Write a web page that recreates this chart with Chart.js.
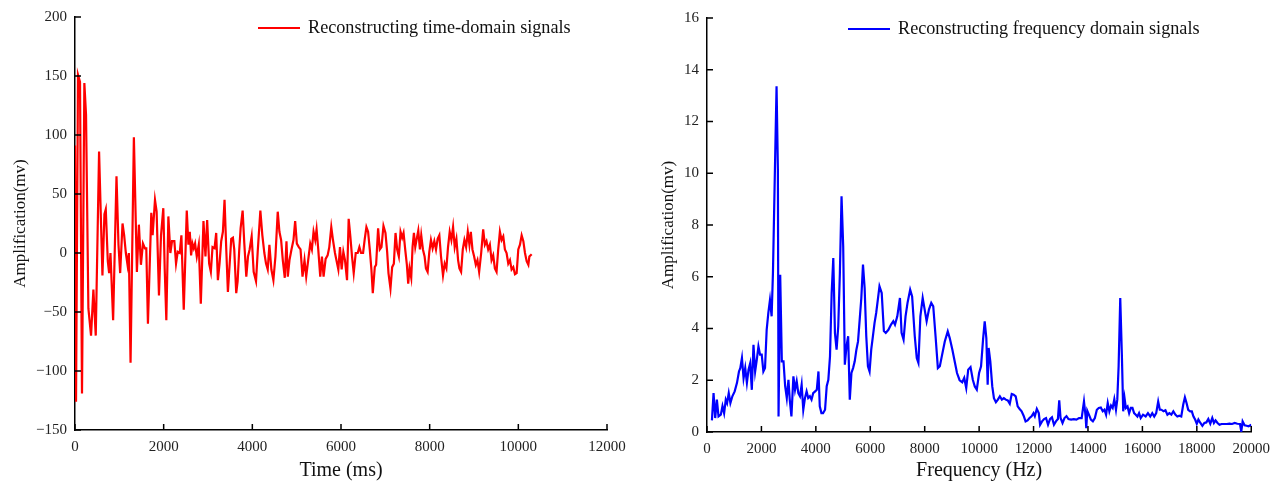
<!DOCTYPE html>
<html>
<head>
<meta charset="utf-8">
<script src="https://cdn.jsdelivr.net/npm/chart.js@4.4.1/dist/chart.umd.min.js"></script>
<style>
  body { margin: 0; background: #fff; }
  .wrap { position: absolute; top: 0; height: 487px; }
</style>
</head>
<body>
<div class="wrap" style="left:0;width:640px"><canvas id="timeChart"></canvas></div>
<div class="wrap" style="left:640px;width:638px"><canvas id="freqChart"></canvas></div>
<script>
/* time-domain signal */
const timeMs = [0, 23, 68, 113, 158, 211, 249, 302, 362, 415, 468, 543, 619, 664, 694, 740, 770, 800, 860, 936,
  981, 1019, 1072, 1109, 1147, 1185, 1215, 1253, 1328, 1396, 1441, 1487, 1532, 1577, 1608, 1645, 1721, 1751, 1804, 1841,
  1894, 1940, 1992, 2023, 2060, 2106, 2151, 2189, 2241, 2279, 2317, 2362, 2400, 2453, 2521, 2558, 2589, 2619, 2649, 2679,
  2709, 2747, 2792, 2838, 2898, 2943, 2981, 3026, 3064, 3102, 3147, 3185, 3223, 3260, 3298, 3336, 3373, 3411, 3449, 3494,
  3524, 3562, 3592, 3637, 3668, 3705, 3736, 3781, 3819, 3864, 3902, 3939, 3985, 4030, 4083, 4121, 4181, 4226, 4271, 4309,
  4347, 4385, 4430, 4475, 4521, 4573, 4611, 4649, 4687, 4732, 4770, 4800, 4838, 4883, 4928, 4966, 5004, 5049, 5087, 5132,
  5177, 5215, 5260, 5306, 5343, 5381, 5419, 5449, 5487, 5532, 5570, 5607, 5653, 5698, 5736, 5781, 5819, 5864, 5902, 5940,
  5977, 6015, 6053, 6090, 6136, 6173, 6211, 6249, 6287, 6332, 6377, 6415, 6453, 6498, 6536, 6573, 6611, 6649, 6686, 6717,
  6762, 6792, 6837, 6875, 6913, 6958, 7003, 7041, 7071, 7116, 7154, 7192, 7230, 7267, 7305, 7343, 7380, 7411, 7448, 7486,
  7516, 7546, 7584, 7614, 7645, 7675, 7713, 7743, 7780, 7810, 7848, 7886, 7916, 7954, 7992, 8029, 8067, 8105, 8143, 8180,
  8218, 8256, 8301, 8339, 8377, 8414, 8452, 8490, 8528, 8565, 8603, 8641, 8671, 8709, 8747, 8784, 8822, 8860, 8897, 8928,
  8965, 9003, 9041, 9078, 9116, 9162, 9207, 9245, 9282, 9320, 9358, 9396, 9433, 9471, 9509, 9546, 9584, 9622, 9660, 9697,
  9735, 9773, 9811, 9848, 9886, 9924, 9962, 9999, 10037, 10075, 10113, 10150, 10188, 10226, 10249, 10301];
const timeAmp = [91, -126, 151, 145, -119, 144, 117, -47, -70, -31, -70, 86, -19, 33, 37, -7, -17, 0, -57, 65,
  7, -17, 25, 15, 0, -10, 0, -93, 98, -16, 24, -10, 8, 4, 4, -60, 34, 15, 45, 35,
  -36, 15, 38, -13, -57, 31, 0, 10, 10, -9, 1, 0, 15, -48, 36, 7, 18, -2, 8, 4,
  8, -3, 7, -43, 27, -3, 28, -9, -16, 5, 4, 17, -23, -9, 10, 18, 45, 4, -33, -6,
  12, 13, 3, -34, -24, 3, 21, 36, 8, -20, -3, 3, 14, -16, -24, 1, 36, 15, 0, -9,
  -14, 7, -14, -23, -3, 35, 18, 11, -6, -21, 10, -20, -6, 3, 11, 27, 8, 5, 3, -20,
  -6, -20, -6, 8, 3, 18, 11, 20, 3, -20, -3, -20, -5, -2, 5, 22, 11, 0, -7, -14,
  5, -14, 1, -6, -23, 29, 14, -3, -17, 0, 0, 5, 0, 0, 12, 22, 18, 3, -14, -34,
  -12, -10, 21, 3, 5, 23, 17, 1, -17, -30, -12, -9, 17, 3, -3, 18, 13, 17, 3, -10,
  -26, -13, -21, 5, 17, 5, 13, 19, 3, 15, 3, -3, -13, -16, 1, 11, 4, 10, 3, 12,
  15, -3, -19, -9, -13, 5, 18, 11, 22, 5, 12, -6, -13, -16, 3, 11, 5, 18, 7, 18,
  3, -3, -10, -6, -16, 0, 20, 7, 10, 3, 7, -6, -2, -13, -16, 3, 18, 11, 14, 3,
  0, -9, -6, -14, -12, -18, -17, 3, 7, 15, 10, 0, -7, -10, -3, -1];

/* frequency-domain signal */
const freqHz = [181, 241, 302, 363, 423, 508, 569, 629, 690, 738, 799, 860, 932, 1017, 1102, 1175, 1223, 1284, 1344, 1405,
  1466, 1526, 1587, 1647, 1708, 1769, 1829, 1890, 1950, 2011, 2072, 2132, 2193, 2254, 2314, 2375, 2423, 2496, 2556, 2605,
  2629, 2690, 2750, 2811, 2872, 2932, 2993, 3041, 3102, 3175, 3235, 3296, 3356, 3417, 3478, 3538, 3599, 3660, 3720, 3781,
  3841, 3902, 3975, 4035, 4096, 4144, 4205, 4265, 4338, 4399, 4459, 4520, 4581, 4641, 4702, 4762, 4823, 4883, 4944, 5005,
  5065, 5126, 5187, 5247, 5308, 5368, 5429, 5490, 5550, 5611, 5671, 5732, 5793, 5853, 5914, 5974, 6035, 6096, 6156, 6217,
  6277, 6338, 6420, 6500, 6569, 6666, 6763, 6847, 6908, 6993, 7090, 7150, 7223, 7296, 7369, 7466, 7538, 7635, 7708, 7769,
  7841, 7926, 7999, 8071, 8156, 8241, 8314, 8399, 8484, 8556, 8641, 8738, 8847, 8920, 9017, 9090, 9187, 9284, 9380, 9453,
  9526, 9599, 9684, 9768, 9841, 9914, 9999, 10071, 10144, 10205, 10265, 10314, 10350, 10411, 10483, 10544, 10617, 10689, 10762, 10835,
  10908, 10980, 11053, 11126, 11198, 11271, 11344, 11417, 11489, 11562, 11635, 11707, 11780, 11853, 11926, 11998, 12047, 12120, 12192, 12241,
  12313, 12386, 12459, 12532, 12604, 12677, 12750, 12822, 12895, 12944, 12992, 13065, 13137, 13210, 13283, 13380, 13477, 13574, 13671, 13768,
  13853, 13913, 13938, 13974, 14035, 14108, 14180, 14253, 14326, 14398, 14471, 14544, 14604, 14665, 14726, 14786, 14847, 14907, 14968, 15029,
  15077, 15126, 15186, 15247, 15295, 15344, 15392, 15453, 15513, 15574, 15635, 15695, 15756, 15817, 15877, 15938, 16023, 16120, 16204, 16289,
  16362, 16435, 16507, 16580, 16641, 16701, 16774, 16847, 16919, 16992, 17065, 17137, 17210, 17283, 17356, 17428, 17501, 17562, 17622, 17683,
  17756, 17816, 17877, 17937, 17998, 18058, 18131, 18204, 18277, 18350, 18422, 18495, 18568, 18628, 18689, 18761, 18834, 18907, 19004, 19101,
  19198, 19295, 19392, 19489, 19586, 19634, 19683, 19755, 19828, 19901, 19973, 20000];
const freqAmp = [0.45, 1.5, 0.54, 1.25, 0.6, 0.67, 1.0, 0.73, 1.25, 1.12, 1.5, 1.12, 1.38, 1.57, 1.9, 2.34, 2.47, 2.86, 2.08, 2.47,
  1.9, 2.41, 2.66, 1.63, 3.37, 2.34, 2.79, 3.31, 2.99, 2.99, 2.34, 2.47, 3.95, 4.6, 5.1, 4.47, 6.14, 10.14, 13.36, 10.14,
  0.6, 6.08, 2.73, 2.73, 1.77, 1.31, 2.02, 1.25, 0.6, 2.15, 1.63, 1.96, 1.5, 1.38, 1.83, 0.86, 1.31, 1.57, 1.31, 1.38,
  1.25, 1.5, 1.57, 1.63, 2.34, 0.99, 0.73, 0.73, 0.86, 1.77, 2.02, 2.92, 5.37, 6.72, 3.82, 3.18, 4.08, 6.14, 9.11, 7.17,
  2.6, 3.31, 3.7, 1.25, 2.28, 2.47, 2.73, 3.18, 3.5, 4.34, 5.18, 6.47, 5.56, 3.7, 2.54, 2.34, 3.18, 3.7, 4.21, 4.6,
  5.11, 5.63, 5.37, 3.9, 3.83, 3.95, 4.15, 4.28, 4.15, 4.47, 5.18, 3.83, 3.57, 4.47, 4.99, 5.5, 5.24, 3.7, 2.86, 2.67,
  4.47, 5.18, 4.73, 4.28, 4.73, 4.99, 4.86, 3.7, 2.47, 2.54, 2.99, 3.5, 3.89, 3.63, 3.18, 2.79, 2.28, 2.0, 1.92, 2.09,
  1.7, 2.41, 2.51, 2.02, 1.76, 1.64, 2.28, 2.54, 3.57, 4.28, 3.63, 1.83, 3.25, 2.73, 1.76, 1.31, 1.15, 1.25, 1.38, 1.25,
  1.31, 1.25, 1.22, 1.09, 1.47, 1.44, 1.38, 0.99, 0.89, 0.8, 0.63, 0.41, 0.45, 0.54, 0.61, 0.73, 0.61, 0.89, 0.73, 0.28,
  0.41, 0.5, 0.54, 0.28, 0.5, 0.57, 0.28, 0.41, 0.5, 1.22, 0.54, 0.35, 0.54, 0.61, 0.5, 0.48, 0.5, 0.48, 0.54, 0.54,
  1.18, 0.6, 0.15, 0.82, 0.67, 0.48, 0.41, 0.54, 0.86, 0.93, 0.95, 0.8, 0.86, 0.67, 1.12, 0.8, 1.02, 0.93, 1.27, 0.86,
  1.25, 2.54, 5.18, 2.92, 0.8, 1.31, 0.93, 0.99, 0.73, 0.93, 0.93, 0.73, 0.67, 0.6, 0.73, 0.54, 0.67, 0.6, 0.73, 0.6,
  0.73, 0.6, 0.73, 1.18, 0.86, 0.86, 0.8, 0.84, 0.67, 0.73, 0.67, 0.8, 0.67, 0.6, 0.63, 0.6, 1.06, 1.34, 1.12, 0.86,
  0.8, 0.8, 0.6, 0.48, 0.32, 0.48, 0.35, 0.24, 0.35, 0.37, 0.5, 0.32, 0.54, 0.35, 0.45, 0.35, 0.28, 0.31, 0.31, 0.31,
  0.32, 0.31, 0.35, 0.32, 0.31, 0.02, 0.41, 0.26, 0.24, 0.22, 0.26, 0.22];

Chart.defaults.font.family = '"Liberation Serif", "Times New Roman", serif';
Chart.defaults.color = '#222';

/* plain numbers, typographic minus, no thousands separator */
const plainTick = (v) => String(v).replace('-', '\u2212');

/* small ticks pointing into the plot, like the original */
const inwardTicks = {
    id: 'inwardTicks',
    afterDraw(chart) {
        const { ctx, chartArea, scales } = chart;
        ctx.save();
        ctx.strokeStyle = '#000';
        ctx.lineWidth = 1.5;
        ctx.beginPath();
        scales.x.ticks.forEach((t) => {
            const px = scales.x.getPixelForValue(t.value);
            ctx.moveTo(px, chartArea.bottom);
            ctx.lineTo(px, chartArea.bottom - 6);
        });
        scales.y.ticks.forEach((t) => {
            const py = scales.y.getPixelForValue(t.value);
            ctx.moveTo(chartArea.left, py);
            ctx.lineTo(chartArea.left + 6, py);
        });
        ctx.stroke();
        ctx.restore();
    },
};

/* legend: short line + label placed inside the plot area */
const lineKey = {
    id: 'lineKey',
    afterDraw(chart, args, opts) {
        const { ctx } = chart;
        const ds = chart.data.datasets[0];
        ctx.save();
        ctx.strokeStyle = ds.borderColor;
        ctx.lineWidth = 2;
        ctx.beginPath();
        ctx.moveTo(opts.x, opts.y);
        ctx.lineTo(opts.x + 42, opts.y);
        ctx.stroke();
        ctx.fillStyle = '#111';
        ctx.font = '18.2px "Liberation Serif", serif';
        ctx.textBaseline = 'middle';
        ctx.fillText(ds.label, opts.x + 50, opts.y);
        ctx.restore();
    },
};

function makeConfig(xs, ys, label, color, xOpts, yOpts, box) {
    return {
        type: 'line',
        data: {
            datasets: [{
                label: label,
                data: xs.map((x, i) => ({ x: x, y: ys[i] })),
                borderColor: color,
                borderWidth: 2.2,
                pointRadius: 0,
                tension: 0,
                fill: false,
            }],
        },
        options: {
            responsive: true,
            maintainAspectRatio: false,
            animation: false,
            layout: { padding: { top: box.top, right: box.right, left: 0, bottom: 0 } },
            plugins: {
                legend: { display: false },
                tooltip: { enabled: false },
                lineKey: box.key,
            },
            scales: {
                x: {
                    type: 'linear',
                    min: xOpts.min,
                    max: xOpts.max,
                    grid: { display: false, drawTicks: false },
                    border: { display: true, color: '#000', width: 1.5 },
                    ticks: { stepSize: xOpts.step, padding: 8, color: '#222', font: { size: 15 }, callback: plainTick },
                    title: {
                        display: true,
                        text: xOpts.title,
                        color: '#111',
                        font: { size: 20 },
                        padding: { top: 0, bottom: 4 },
                    },
                    afterFit: (s) => { s.height = box.xh; },
                },
                y: {
                    min: yOpts.min,
                    max: yOpts.max,
                    grid: { display: false, drawTicks: false },
                    border: { display: true, color: '#000', width: 1.5 },
                    ticks: { stepSize: yOpts.step, padding: 8, color: '#222', font: { size: 15 }, callback: plainTick },
                    title: {
                        display: true,
                        text: 'Amplification(mv)',
                        color: '#111',
                        font: { size: 17 },
                        padding: { top: box.ytp, bottom: 0 },
                    },
                    afterFit: (s) => { s.width = box.yw; },
                },
            },
        },
        plugins: [inwardTicks, lineKey],
    };
}

new Chart(document.getElementById('timeChart'), makeConfig(
    timeMs, timeAmp, 'Reconstructing time-domain signals', '#ff0000',
    { min: 0, max: 12000, step: 2000, title: 'Time (ms)' },
    { min: -150, max: 200, step: 50 },
    { top: 17, right: 33, xh: 57, yw: 75, ytp: 10, key: { x: 258, y: 28 } }
));

new Chart(document.getElementById('freqChart'), makeConfig(
    freqHz, freqAmp, 'Reconstructing frequency domain signals', '#0000ff',
    { min: 0, max: 20000, step: 2000, title: 'Frequency (Hz)' },
    { min: 0, max: 16, step: 2 },
    { top: 18, right: 21, xh: 55, yw: 67, ytp: 18, key: { x: 208, y: 29 } }
));
</script>
</body>
</html>
